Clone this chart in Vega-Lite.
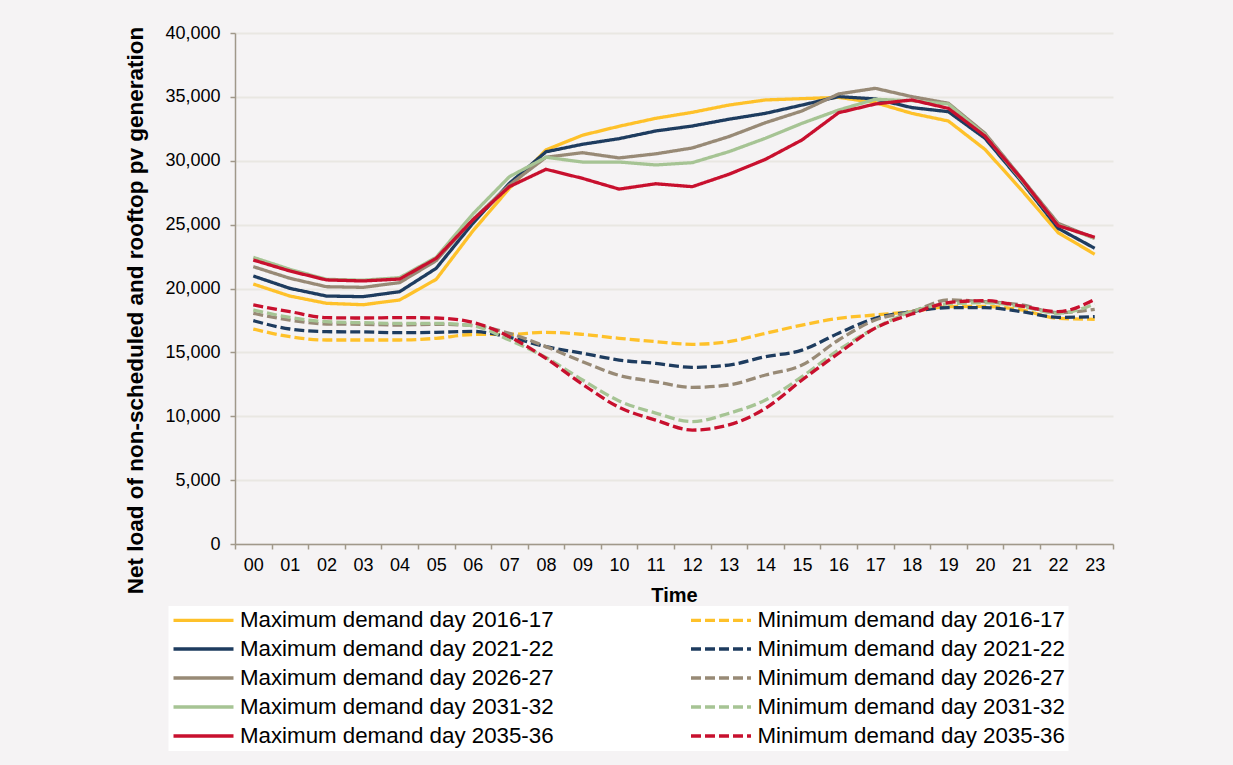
{
  "$schema": "https://vega.github.io/schema/vega-lite/v6.json",
  "width": 878,
  "height": 511,
  "autosize": {"type": "none"},
  "padding": {"left": 235, "top": 33, "right": 120, "bottom": 221},
  "background": "#f5f3f4",
  "config": {
    "font": "Liberation Sans",
    "view": {"stroke": null}
  },
  "data": {
    "values": [
      {"hour": 0, "Maximum demand day 2016-17": 20350, "Maximum demand day 2021-22": 20980, "Maximum demand day 2026-27": 21710, "Maximum demand day 2031-32": 22440, "Maximum demand day 2035-36": 22230, "Minimum demand day 2016-17": 16830, "Minimum demand day 2021-22": 17480, "Minimum demand day 2026-27": 18060, "Minimum demand day 2031-32": 18320, "Minimum demand day 2035-36": 18710},
      {"hour": 1, "Maximum demand day 2016-17": 19410, "Maximum demand day 2021-22": 20010, "Maximum demand day 2026-27": 20800, "Maximum demand day 2031-32": 21500, "Maximum demand day 2035-36": 21370, "Minimum demand day 2016-17": 16230, "Minimum demand day 2021-22": 16830, "Minimum demand day 2026-27": 17530, "Minimum demand day 2031-32": 17740, "Minimum demand day 2035-36": 18190},
      {"hour": 2, "Maximum demand day 2016-17": 18840, "Maximum demand day 2021-22": 19410, "Maximum demand day 2026-27": 20140, "Maximum demand day 2031-32": 20720, "Maximum demand day 2035-36": 20670, "Minimum demand day 2016-17": 15970, "Minimum demand day 2021-22": 16620, "Minimum demand day 2026-27": 17220, "Minimum demand day 2031-32": 17400, "Minimum demand day 2035-36": 17720},
      {"hour": 3, "Maximum demand day 2016-17": 18730, "Maximum demand day 2021-22": 19360, "Maximum demand day 2026-27": 20090, "Maximum demand day 2031-32": 20650, "Maximum demand day 2035-36": 20590, "Minimum demand day 2016-17": 15970, "Minimum demand day 2021-22": 16600, "Minimum demand day 2026-27": 17200, "Minimum demand day 2031-32": 17320, "Minimum demand day 2035-36": 17690},
      {"hour": 4, "Maximum demand day 2016-17": 19100, "Maximum demand day 2021-22": 19750, "Maximum demand day 2026-27": 20460, "Maximum demand day 2031-32": 20850, "Maximum demand day 2035-36": 20740, "Minimum demand day 2016-17": 15970, "Minimum demand day 2021-22": 16540, "Minimum demand day 2026-27": 17140, "Minimum demand day 2031-32": 17270, "Minimum demand day 2035-36": 17720},
      {"hour": 5, "Maximum demand day 2016-17": 20720, "Maximum demand day 2021-22": 21580, "Maximum demand day 2026-27": 22180, "Maximum demand day 2031-32": 22440, "Maximum demand day 2035-36": 22360, "Minimum demand day 2016-17": 16100, "Minimum demand day 2021-22": 16570, "Minimum demand day 2026-27": 17200, "Minimum demand day 2031-32": 17270, "Minimum demand day 2035-36": 17690},
      {"hour": 6, "Maximum demand day 2016-17": 24500, "Maximum demand day 2021-22": 25100, "Maximum demand day 2026-27": 25400, "Maximum demand day 2031-32": 25830, "Maximum demand day 2035-36": 25360, "Minimum demand day 2016-17": 16400, "Minimum demand day 2021-22": 16640, "Minimum demand day 2026-27": 17100, "Minimum demand day 2031-32": 17080, "Minimum demand day 2035-36": 17350},
      {"hour": 7, "Maximum demand day 2016-17": 27840, "Maximum demand day 2021-22": 28230, "Maximum demand day 2026-27": 28100, "Maximum demand day 2031-32": 28750, "Maximum demand day 2035-36": 27970, "Minimum demand day 2016-17": 16410, "Minimum demand day 2021-22": 16180, "Minimum demand day 2026-27": 16490, "Minimum demand day 2031-32": 15970, "Minimum demand day 2035-36": 16230},
      {"hour": 8, "Maximum demand day 2016-17": 30850, "Maximum demand day 2021-22": 30700, "Maximum demand day 2026-27": 30270, "Maximum demand day 2031-32": 30270, "Maximum demand day 2035-36": 29330, "Minimum demand day 2016-17": 16570, "Minimum demand day 2021-22": 15450, "Minimum demand day 2026-27": 15450, "Minimum demand day 2031-32": 14600, "Minimum demand day 2035-36": 14530},
      {"hour": 9, "Maximum demand day 2016-17": 32000, "Maximum demand day 2021-22": 31290, "Maximum demand day 2026-27": 30630, "Maximum demand day 2031-32": 29900, "Maximum demand day 2035-36": 28620, "Minimum demand day 2016-17": 16410, "Minimum demand day 2021-22": 14930, "Minimum demand day 2026-27": 14270, "Minimum demand day 2031-32": 12840, "Minimum demand day 2035-36": 12500},
      {"hour": 10, "Maximum demand day 2016-17": 32700, "Maximum demand day 2021-22": 31730, "Maximum demand day 2026-27": 30220, "Maximum demand day 2031-32": 29900, "Maximum demand day 2035-36": 27780, "Minimum demand day 2016-17": 16100, "Minimum demand day 2021-22": 14400, "Minimum demand day 2026-27": 13200, "Minimum demand day 2031-32": 11200, "Minimum demand day 2035-36": 10700},
      {"hour": 11, "Maximum demand day 2016-17": 33320, "Maximum demand day 2021-22": 32330, "Maximum demand day 2026-27": 30540, "Maximum demand day 2031-32": 29670, "Maximum demand day 2035-36": 28200, "Minimum demand day 2016-17": 15840, "Minimum demand day 2021-22": 14140, "Minimum demand day 2026-27": 12700, "Minimum demand day 2031-32": 10250, "Minimum demand day 2035-36": 9700},
      {"hour": 12, "Maximum demand day 2016-17": 33790, "Maximum demand day 2021-22": 32720, "Maximum demand day 2026-27": 31000, "Maximum demand day 2031-32": 29850, "Maximum demand day 2035-36": 27970, "Minimum demand day 2016-17": 15630, "Minimum demand day 2021-22": 13830, "Minimum demand day 2026-27": 12260, "Minimum demand day 2031-32": 9580, "Minimum demand day 2035-36": 8920},
      {"hour": 13, "Maximum demand day 2016-17": 34360, "Maximum demand day 2021-22": 33250, "Maximum demand day 2026-27": 31890, "Maximum demand day 2031-32": 30710, "Maximum demand day 2035-36": 28940, "Minimum demand day 2016-17": 15840, "Minimum demand day 2021-22": 14010, "Minimum demand day 2026-27": 12450, "Minimum demand day 2031-32": 10230, "Minimum demand day 2035-36": 9320},
      {"hour": 14, "Maximum demand day 2016-17": 34760, "Maximum demand day 2021-22": 33710, "Maximum demand day 2026-27": 32980, "Maximum demand day 2031-32": 31760, "Maximum demand day 2035-36": 30110, "Minimum demand day 2016-17": 16490, "Minimum demand day 2021-22": 14660, "Minimum demand day 2026-27": 13230, "Minimum demand day 2031-32": 11270, "Minimum demand day 2035-36": 10620},
      {"hour": 15, "Maximum demand day 2016-17": 34860, "Maximum demand day 2021-22": 34360, "Maximum demand day 2026-27": 33900, "Maximum demand day 2031-32": 32930, "Maximum demand day 2035-36": 31630, "Minimum demand day 2016-17": 17140, "Minimum demand day 2021-22": 15180, "Minimum demand day 2026-27": 14010, "Minimum demand day 2031-32": 13100, "Minimum demand day 2035-36": 12840},
      {"hour": 16, "Maximum demand day 2016-17": 34960, "Maximum demand day 2021-22": 35020, "Maximum demand day 2026-27": 35230, "Maximum demand day 2031-32": 33970, "Maximum demand day 2035-36": 33760, "Minimum demand day 2016-17": 17670, "Minimum demand day 2021-22": 16500, "Minimum demand day 2026-27": 15970, "Minimum demand day 2031-32": 15190, "Minimum demand day 2035-36": 14930},
      {"hour": 17, "Maximum demand day 2016-17": 34550, "Maximum demand day 2021-22": 34840, "Maximum demand day 2026-27": 35670, "Maximum demand day 2031-32": 34810, "Maximum demand day 2035-36": 34440, "Minimum demand day 2016-17": 17930, "Minimum demand day 2021-22": 17670, "Minimum demand day 2026-27": 17530, "Minimum demand day 2031-32": 16900, "Minimum demand day 2035-36": 16900},
      {"hour": 18, "Maximum demand day 2016-17": 33710, "Maximum demand day 2021-22": 34160, "Maximum demand day 2026-27": 35020, "Maximum demand day 2031-32": 34700, "Maximum demand day 2035-36": 34760, "Minimum demand day 2016-17": 18190, "Minimum demand day 2021-22": 18190, "Minimum demand day 2026-27": 18190, "Minimum demand day 2031-32": 18190, "Minimum demand day 2035-36": 18000},
      {"hour": 19, "Maximum demand day 2016-17": 33110, "Maximum demand day 2021-22": 33840, "Maximum demand day 2026-27": 34500, "Maximum demand day 2031-32": 34440, "Maximum demand day 2035-36": 34100, "Minimum demand day 2016-17": 18580, "Minimum demand day 2021-22": 18500, "Minimum demand day 2026-27": 19100, "Minimum demand day 2031-32": 18790, "Minimum demand day 2035-36": 18890},
      {"hour": 20, "Maximum demand day 2016-17": 30890, "Maximum demand day 2021-22": 31760, "Maximum demand day 2026-27": 32150, "Maximum demand day 2031-32": 32020, "Maximum demand day 2035-36": 31940, "Minimum demand day 2016-17": 18600, "Minimum demand day 2021-22": 18500, "Minimum demand day 2026-27": 18970, "Minimum demand day 2031-32": 18890, "Minimum demand day 2035-36": 19050},
      {"hour": 21, "Maximum demand day 2016-17": 27710, "Maximum demand day 2021-22": 28360, "Maximum demand day 2026-27": 28630, "Maximum demand day 2031-32": 28490, "Maximum demand day 2035-36": 28580, "Minimum demand day 2016-17": 18320, "Minimum demand day 2021-22": 18190, "Minimum demand day 2026-27": 18710, "Minimum demand day 2031-32": 18580, "Minimum demand day 2035-36": 18630},
      {"hour": 22, "Maximum demand day 2016-17": 24370, "Maximum demand day 2021-22": 24710, "Maximum demand day 2026-27": 25100, "Maximum demand day 2031-32": 24970, "Maximum demand day 2035-36": 24920, "Minimum demand day 2016-17": 17670, "Minimum demand day 2021-22": 17740, "Minimum demand day 2026-27": 18110, "Minimum demand day 2031-32": 18060, "Minimum demand day 2035-36": 18190},
      {"hour": 23, "Maximum demand day 2016-17": 22680, "Maximum demand day 2021-22": 23150, "Maximum demand day 2026-27": 23930, "Maximum demand day 2031-32": 23930, "Maximum demand day 2035-36": 24010, "Minimum demand day 2016-17": 17590, "Minimum demand day 2021-22": 17800, "Minimum demand day 2026-27": 18370, "Minimum demand day 2031-32": 18790, "Minimum demand day 2035-36": 19150}
    ]
  },
  "resolve": {"axis": {"x": "independent"}},
  "layer": [
    {
      "transform": [{"fold": ["Maximum demand day 2016-17", "Maximum demand day 2021-22", "Maximum demand day 2026-27", "Maximum demand day 2031-32", "Maximum demand day 2035-36"], "as": ["series", "load"]}],
      "mark": {"type": "line", "strokeWidth": 3.3},
      "encoding": {
        "x": {
          "field": "hour", "type": "quantitative",
          "scale": {"domain": [-0.5, 23.5], "nice": false, "zero": false},
          "axis": {
            "orient": "bottom",
            "values": [0,1,2,3,4,5,6,7,8,9,10,11,12,13,14,15,16,17,18,19,20,21,22,23],
            "format": "02d",
            "ticks": false, "grid": false, "domain": true,
            "domainColor": "#a0988a", "domainWidth": 1.5,
            "labelFontSize": 18, "labelColor": "#000000", "labelPadding": 12, "labelFlush": false,
            "title": "Time", "titleFontSize": 20, "titleFontWeight": "bold", "titleColor": "#000000", "titlePadding": 11
          }
        },
        "y": {
          "field": "load", "type": "quantitative",
          "scale": {"domain": [0, 40000], "nice": false},
          "axis": {
            "values": [0, 5000, 10000, 15000, 20000, 25000, 30000, 35000, 40000],
            "format": ",d",
            "grid": true, "gridColor": "#e9e7e2", "gridWidth": 2,
            "domainColor": "#a0988a", "domainWidth": 1.5,
            "tickColor": "#a0988a", "tickSize": 5, "tickWidth": 1.5,
            "labelFontSize": 18, "labelColor": "#000000", "labelPadding": 10,
            "title": "Net load of non-scheduled and rooftop pv generation",
            "titleFontSize": 22.5, "titleFontWeight": "bold", "titleColor": "#000000", "titlePadding": 17, "titleY": 277
          }
        },
        "color": {
          "field": "series", "type": "nominal",
          "scale": {
            "domain": ["Maximum demand day 2016-17", "Maximum demand day 2021-22", "Maximum demand day 2026-27", "Maximum demand day 2031-32", "Maximum demand day 2035-36", "Minimum demand day 2016-17", "Minimum demand day 2021-22", "Minimum demand day 2026-27", "Minimum demand day 2031-32", "Minimum demand day 2035-36"],
            "range": ["#fec12a", "#1e3c5f", "#988a76", "#a6c494", "#c8102e", "#fec12a", "#1e3c5f", "#988a76", "#a6c494", "#c8102e"]
          },
          "legend": {
            "title": null, "orient": "none", "legendX": -66.5, "legendY": 573,
            "columns": 2, "columnPadding": 134.5, "rowPadding": 6, "clipHeight": 22,
            "symbolType": "stroke", "symbolSize": 3600, "symbolStrokeWidth": 3.3,
            "labelFontSize": 22.3, "labelColor": "#000000", "labelOffset": 4.5, "labelLimit": 600,
            "fillColor": "#ffffff", "padding": 3
          }
        },
        "strokeDash": {
          "field": "series", "type": "nominal",
          "scale": {
            "domain": ["Maximum demand day 2016-17", "Maximum demand day 2021-22", "Maximum demand day 2026-27", "Maximum demand day 2031-32", "Maximum demand day 2035-36", "Minimum demand day 2016-17", "Minimum demand day 2021-22", "Minimum demand day 2026-27", "Minimum demand day 2031-32", "Minimum demand day 2035-36"],
            "range": [[1, 0], [1, 0], [1, 0], [1, 0], [1, 0], [10, 4], [10, 4], [10, 4], [10, 4], [10, 4]]
          },
          "legend": {
            "title": null, "orient": "none", "legendX": -66.5, "legendY": 573,
            "columns": 2, "columnPadding": 134.5, "rowPadding": 6, "clipHeight": 22,
            "symbolType": "stroke", "symbolSize": 3600, "symbolStrokeWidth": 3.3,
            "labelFontSize": 22.3, "labelColor": "#000000", "labelOffset": 4.5, "labelLimit": 600,
            "fillColor": "#ffffff", "padding": 3
          }
        }
      }
    },
    {
      "transform": [{"fold": ["Minimum demand day 2016-17", "Minimum demand day 2021-22", "Minimum demand day 2026-27", "Minimum demand day 2031-32", "Minimum demand day 2035-36"], "as": ["series", "load"]}],
      "mark": {"type": "line", "strokeWidth": 3.3, "interpolate": "monotone"},
      "encoding": {
        "x": {
          "field": "hour", "type": "quantitative",
          "axis": {
            "orient": "bottom",
            "values": [-0.5, 0.5, 1.5, 2.5, 3.5, 4.5, 5.5, 6.5, 7.5, 8.5, 9.5, 10.5, 11.5, 12.5, 13.5, 14.5, 15.5, 16.5, 17.5, 18.5, 19.5, 20.5, 21.5, 22.5, 23.5],
            "labels": false, "domain": false, "grid": false, "title": null,
            "ticks": true, "tickColor": "#a0988a", "tickSize": 5, "tickWidth": 1.5
          }
        },
        "y": {"field": "load", "type": "quantitative"},
        "color": {"field": "series", "type": "nominal"},
        "strokeDash": {"field": "series", "type": "nominal"}
      }
    }
  ]
}
